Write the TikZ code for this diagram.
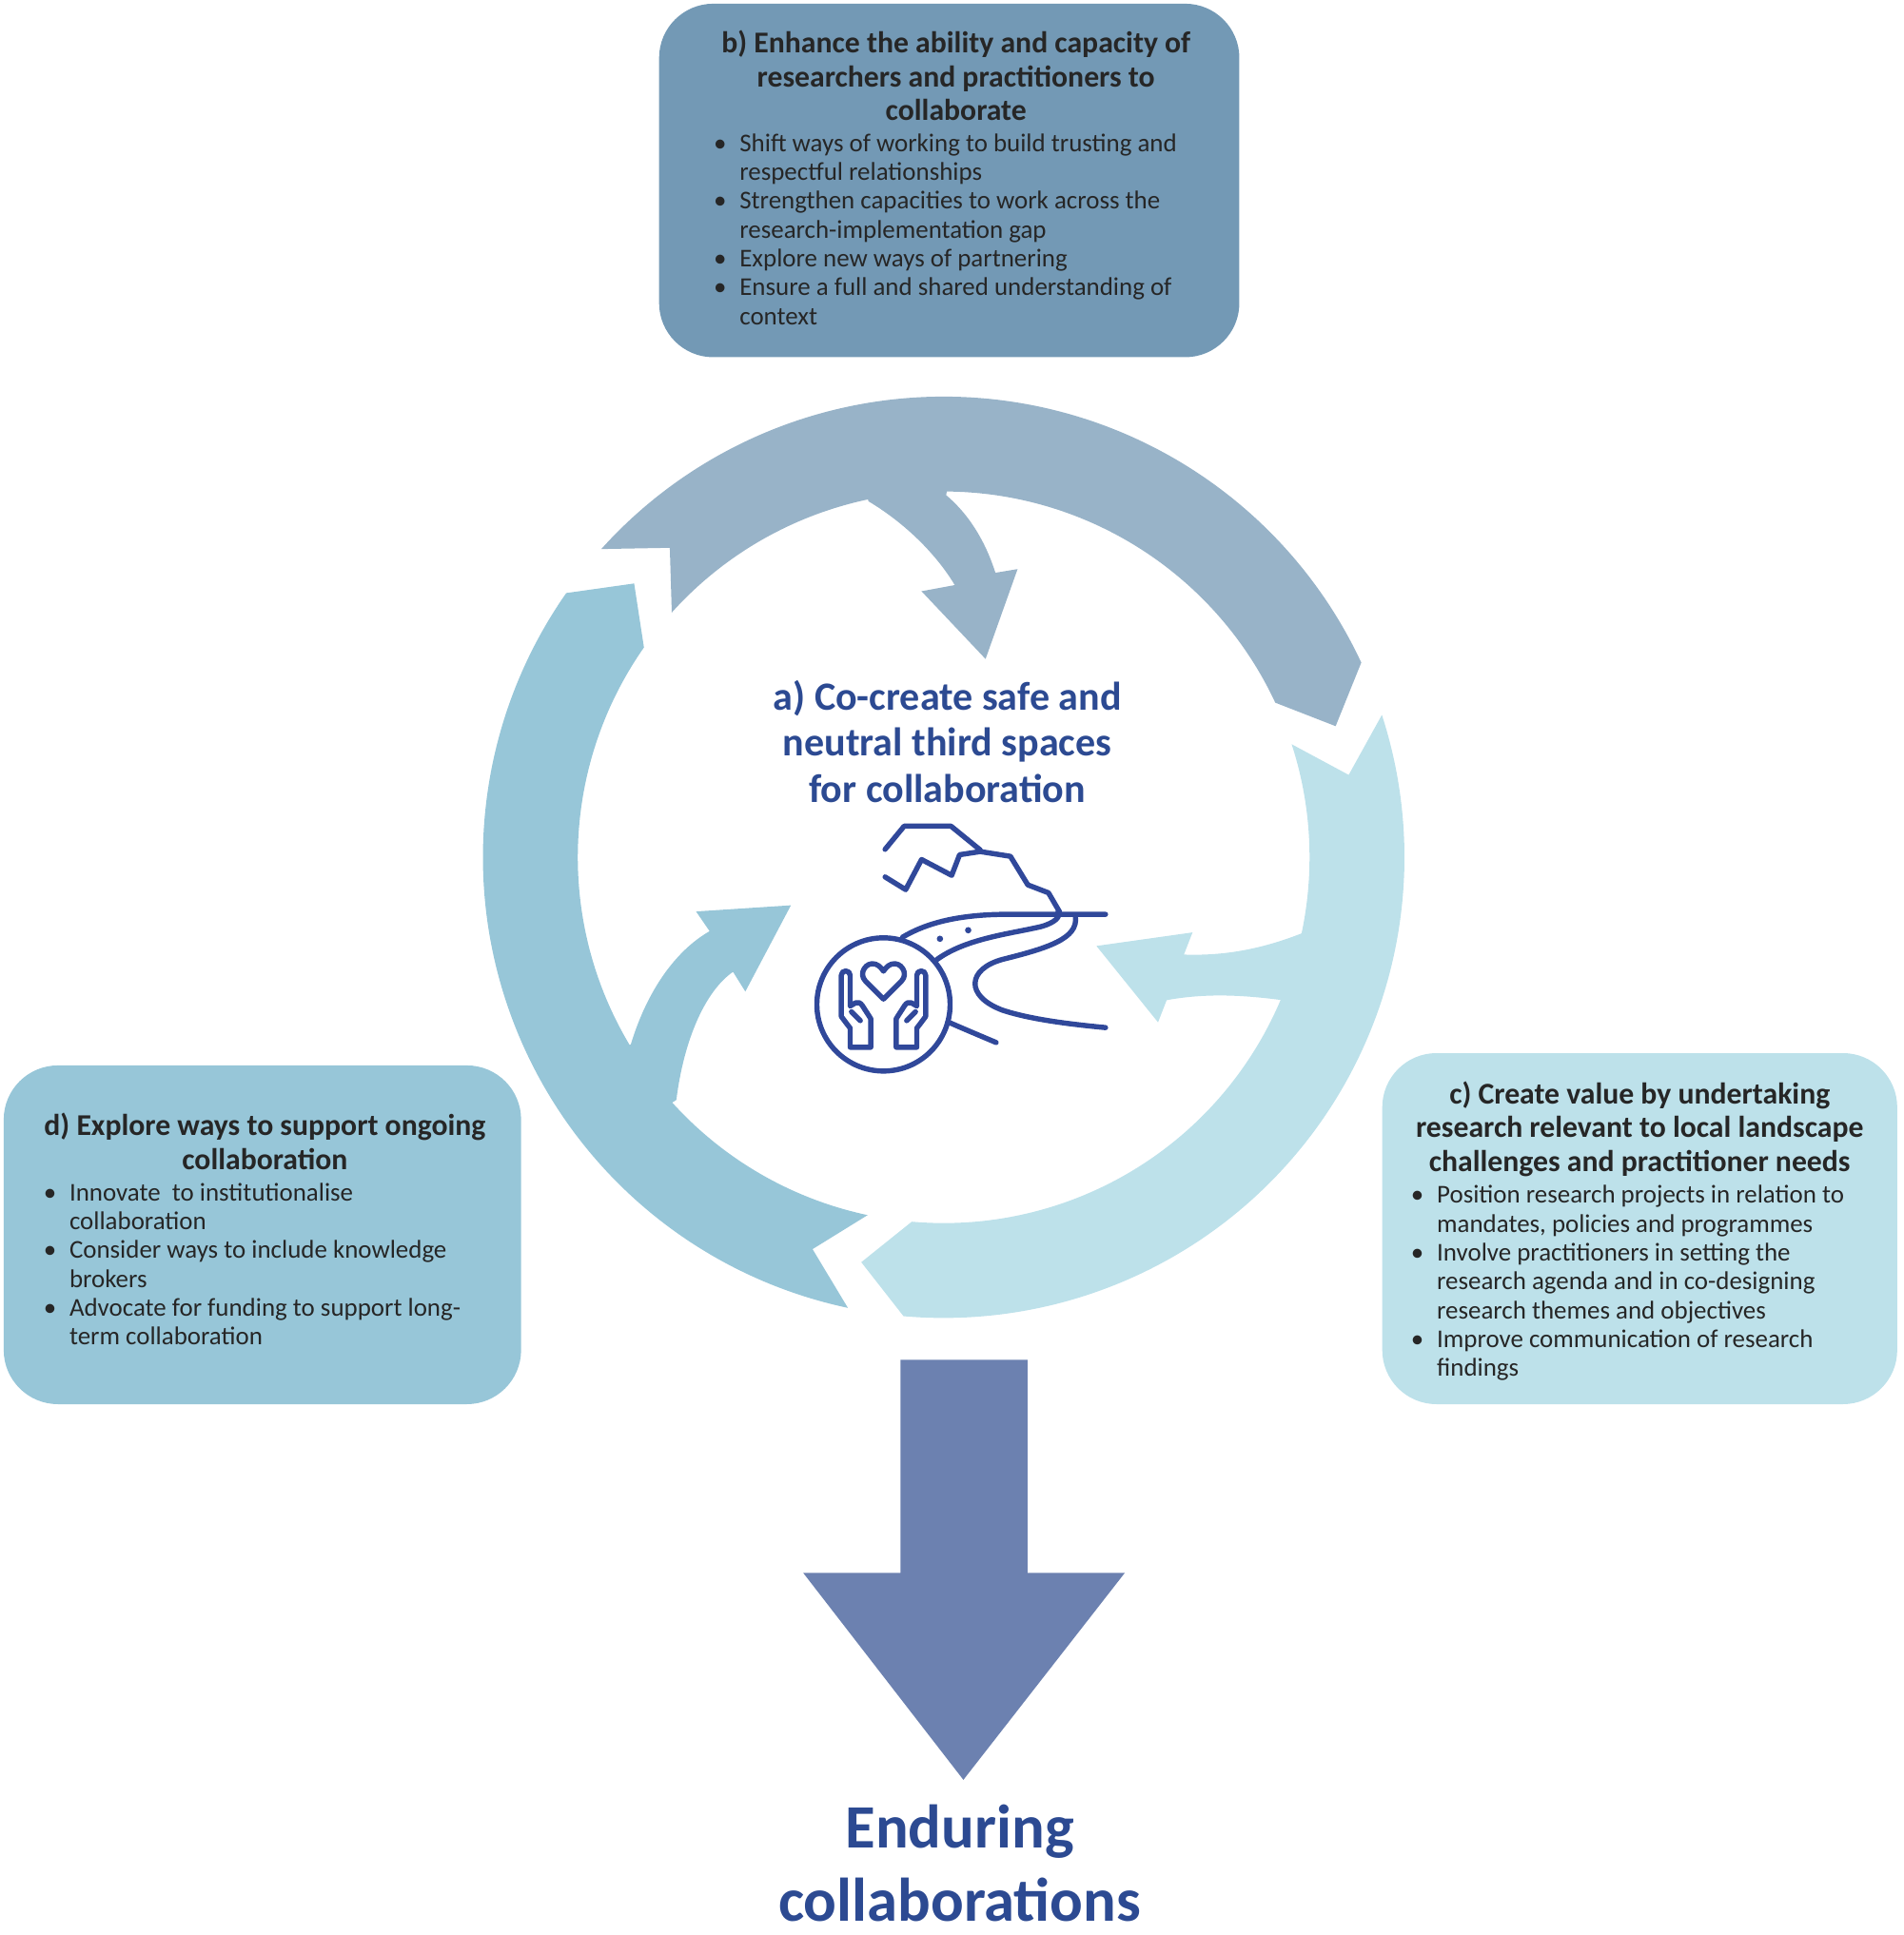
\documentclass[tikz,border=0pt]{standalone}
\usepackage{fontspec}
\setmainfont{Carlito}
\definecolor{topc}{HTML}{98B3C8}
\definecolor{leftc}{HTML}{97C6D8}
\definecolor{rightc}{HTML}{BDE1EA}
\definecolor{boxbc}{HTML}{7399B5}
\definecolor{downc}{HTML}{6C81B0}
\definecolor{navy}{HTML}{2C4A92}
\definecolor{iconc}{HTML}{30489A}
\definecolor{txt}{HTML}{262626}
\newcommand\titlefont{\fontsize{12.25}{13.75}\selectfont\bfseries}
\newcommand\bodyfont{\fontsize{10.4}{11.7}\selectfont}
\newcommand\bul{\makebox[12pt][l]{\hspace{1.5pt}\textbullet}}
\begin{document}
\begin{tikzpicture}[x=0.5pt,y=0.5pt,
  panel/.style={rounded corners=22pt, inner sep=0pt},
  txtnode/.style={inner sep=0pt, text=txt},
]
\useasboundingbox (0,0) rectangle (1545,-1571);

% ---------- circular arrows ----------
\begin{scope}[shift={(766,-696)}]
  \fill[topc] (138:374) arc[start angle=138, end angle=25, radius=374]
     -- (18.5:335.5) -- (25:297) arc[start angle=25, end angle=138, radius=297]
     -- (131.5:335.5) -- cycle;
  \fill[rightc] (18:374) arc[start angle=18, end angle=-95, radius=374]
     -- (-101.5:335.5) -- (-95:297) arc[start angle=-95, end angle=18, radius=297]
     -- (11.5:335.5) -- cycle;
  \fill[leftc] (-102:374) arc[start angle=-102, end angle=-215, radius=374]
     -- (-221.5:335.5) -- (-215:297) arc[start angle=-215, end angle=-102, radius=297]
     -- (-108.5:335.5) -- cycle;
\end{scope}

% branch arrows into centre
\fill[topc] (700,-390) -- (705,-407) .. controls (735,-425) and (760,-450) .. (775,-475)
   -- (748,-480) -- (800,-535) -- (826,-462) -- (808,-465)
   .. controls (800,-440) and (787,-418) .. (768,-402) -- (770,-390) -- cycle;
\fill[leftc] (500,-852) -- (512,-848) .. controls (525,-805) and (548,-772) .. (576,-756)
   -- (565,-740) -- (642,-735) -- (605,-805) -- (595,-789)
   .. controls (572,-805) and (555,-845) .. (549,-893) -- (530,-905) -- cycle;
\fill[rightc] (1070,-750) -- (1056,-758) .. controls (1020,-772) and (990,-776) .. (961,-775)
   -- (968,-757) -- (890,-768) -- (940,-830) -- (947,-812)
   .. controls (980,-806) and (1010,-808) .. (1041,-812) -- (1060,-815) -- cycle;

% ---------- boxes ----------
\node[panel, fill=boxbc, minimum width=235.5pt, minimum height=143.5pt] (boxb) at (770.5,-146.5) {};
\node[panel, fill=leftc, minimum width=210pt, minimum height=137.5pt] (boxd) at (213,-1002.5) {};
\node[panel, fill=rightc, minimum width=209pt, minimum height=142.5pt] (boxc) at (1331,-997.5) {};

% box b text
\node[txtnode, anchor=base] (btitle) at (776,-43) {\titlefont\begin{tabular}[t]{@{}c@{}}
b) Enhance the ability and capacity of\\ researchers and practitioners to\\ collaborate\end{tabular}};
\node[txtnode, anchor=base west] (blist) at (576,-123) {\bodyfont\begin{tabular}[t]{@{}l@{}l@{}}
\bul & Shift ways of working to build trusting and\\
 & respectful relationships\\
\bul & Strengthen capacities to work across the\\
 & research-implementation gap\\
\bul & Explore new ways of partnering\\
\bul & Ensure a full and shared understanding of\\
 & context\end{tabular}};

% box d text
\node[txtnode, anchor=base] (dtitle) at (215,-922) {\titlefont\begin{tabular}[t]{@{}c@{}}
d) Explore ways to support ongoing\\ collaboration\end{tabular}};
\node[txtnode, anchor=base west] (dlist) at (32,-975) {\bodyfont\begin{tabular}[t]{@{}l@{}l@{}}
\bul & Innovate\ \ to institutionalise\\
 & collaboration\\
\bul & Consider ways to include knowledge\\
 & brokers\\
\bul & Advocate for funding to support long-\\
 & term collaboration\end{tabular}};

% box c text
\node[txtnode, anchor=base] (ctitle) at (1331,-896) {\titlefont\begin{tabular}[t]{@{}c@{}}
c) Create value by undertaking\\ research relevant to local landscape\\ challenges and practitioner needs\end{tabular}};
\node[txtnode, anchor=base west] (clist) at (1142,-977) {\bodyfont\begin{tabular}[t]{@{}l@{}l@{}}
\bul & Position research projects in relation to\\
 & mandates, policies and programmes\\
\bul & Involve practitioners in setting the\\
 & research agenda and in co-designing\\
 & research themes and objectives\\
\bul & Improve communication of research\\
 & findings\end{tabular}};

% centre heading
\node[inner sep=0pt, anchor=base, text=navy] (atitle) at (769,-576.5) {\fontsize{16.25}{18.75}\selectfont\bfseries\begin{tabular}[t]{@{}c@{}}
a) Co-create safe and\\ neutral third spaces\\ for collaboration\end{tabular}};

% ---------- icon ----------
\begin{scope}[shift={(618,-656.6)}, x=0.12875pt, y=-0.12875pt, draw=iconc, line width=2.1pt, line cap=round, line join=round]
  \draw (385,617) circle[radius=210];
  % heart
  \draw (385,600) -- (328,543) .. controls (305,520) and (330,480) .. (360,490)
        .. controls (372,494) and (380,505) .. (385,512)
        .. controls (390,505) and (398,494) .. (410,490)
        .. controls (440,480) and (465,520) .. (442,543) -- cycle;
  % hands
  \draw (280,752) -- (280,692) -- (252,655) -- (252,525) .. controls (252,507) and (280,507) .. (280,525)
        -- (280,622) -- (297,612) .. controls (305,608) and (312,612) .. (318,620) -- (345,662) -- (345,752) -- cycle;
  \draw (284,640) -- (312,668);
  \draw (490,752) -- (490,692) -- (518,655) -- (518,525) .. controls (518,507) and (490,507) .. (490,525)
        -- (490,622) -- (473,612) .. controls (465,608) and (458,612) .. (452,620) -- (425,662) -- (425,752) -- cycle;
  \draw (486,640) -- (458,668);
  % mountains
  \draw (390,128) -- (450,55) -- (598,55) -- (690,130);
  \draw (390,215) -- (455,255) -- (505,160) -- (600,210) -- (625,145) -- (690,135) -- (785,150)
        -- (840,240) -- (905,265) -- (940,325);
  % river / road
  \draw (445,405) .. controls (520,360) and (620,335) .. (760,333) -- (1085,333);
  \draw (550,478) .. controls (640,410) and (780,395) .. (880,372) .. controls (925,360) and (945,340) .. (935,325);
  \draw (990,340) .. controls (1000,410) and (900,440) .. (760,475)
        .. controls (650,505) and (640,590) .. (760,635) .. controls (850,665) and (980,680) .. (1085,690);
  \draw (588,672) .. controls (640,695) and (700,720) .. (740,737);
  \fill[iconc] (563,410) circle[radius=10] (652,383) circle[radius=10];
\end{scope}

% ---------- outcome arrow ----------
\fill[downc] (731,-1104) -- (834,-1104) -- (834,-1277) -- (913,-1277) -- (782,-1445)
   -- (652,-1277) -- (731,-1277) -- cycle;
\node[inner sep=0pt, anchor=base, text=navy] (outcome) at (779,-1500) {\fontsize{25}{30}\selectfont\bfseries\begin{tabular}[t]{@{}c@{}}
Enduring\\ collaborations\end{tabular}};
\end{tikzpicture}
\end{document}
